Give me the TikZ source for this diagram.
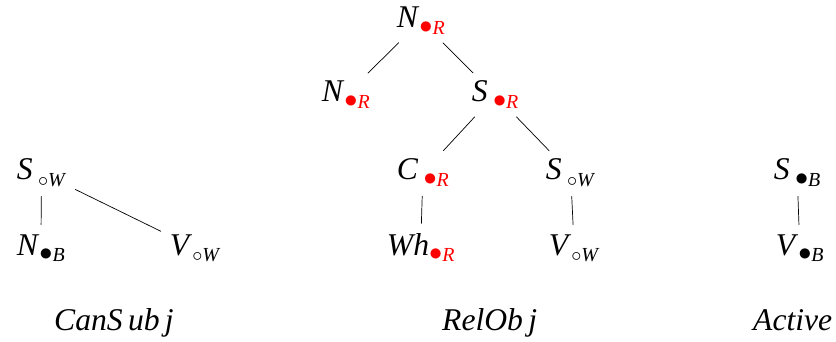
\documentclass[tikz,border=0pt]{standalone}
\usepackage{fontspec}
\setmainfont{Liberation Serif}
\usetikzlibrary{positioning}
\definecolor{hot}{HTML}{FF0000}

% category with a lowered feature mark
\newcommand{\feat}[3]{\textit{#1}#2\raisebox{-0.45ex}{\fontsize{17}{17}\selectfont #3}}
\newcommand{\fil}{\raisebox{0.1ex}{\scalebox{1.3}{$\bullet$}}}
\newcommand{\opn}{$\circ$}
\newcommand{\hotR}{\textcolor{hot}{\fil\textit{R}}}

\begin{document}
\begin{tikzpicture}[x=0.03cm,y=-0.03cm,line cap=round,
    font=\fontsize{27}{31}\selectfont,
    cat/.style={anchor=base west,inner sep=4pt},
    title/.style={anchor=base west,inner sep=0pt},
    edge/.style={line width=0.6pt,shorten >=4pt,shorten <=4pt}]
  \useasboundingbox (0,0) rectangle (836,342);

  % CanSubj
  \node[cat] (cs) at (12,180) {\feat{S}{\,}{\opn\textit{W}}};
  \node[cat] (cn) at (12,255) {\feat{N}{}{\fil\textit{B}}};
  \node[cat] (cv) at (165,255) {\feat{V}{}{\opn\textit{W}}};
  \node[title] (ct) at (54,330) {\textit{CanS\,ub\,j}};
  \draw[edge] (cs) -- (cn);
  \draw[edge] (cs) -- (cv);

  % RelObj
  \node[cat] (rn) at (392,28) {\feat{N}{}{\hotR}};
  \node[cat] (rl) at (317,102) {\feat{N}{}{\hotR}};
  \node[cat] (rs) at (467,102) {\feat{S}{\,}{\hotR}};
  \node[cat] (rc) at (392,180) {\feat{C}{\,}{\hotR}};
  \node[cat] (rw) at (541,180) {\feat{S}{\,}{\opn\textit{W}}};
  \node[cat] (rh) at (382,255) {\feat{Wh}{}{\hotR}};
  \node[cat] (rv) at (544,255) {\feat{V}{}{\opn\textit{W}}};
  \node[title] (rt) at (442,330) {\textit{RelOb\,j}};
  \draw[edge] (rn) -- (rl);
  \draw[edge] (rn) -- (rs);
  \draw[edge] (rs) -- (rc);
  \draw[edge] (rs) -- (rw);
  \draw[edge] (rc) -- (rh);
  \draw[edge] (rw) -- (rv);

  % Active
  \node[cat] (as) at (769,180) {\feat{S}{\,}{\fil\textit{B}}};
  \node[cat] (av) at (771,255) {\feat{V}{}{\fil\textit{B}}};
  \node[title] (at) at (753,330) {\textit{Active}};
  \draw[edge] (as) -- (av);
\end{tikzpicture}
\end{document}
